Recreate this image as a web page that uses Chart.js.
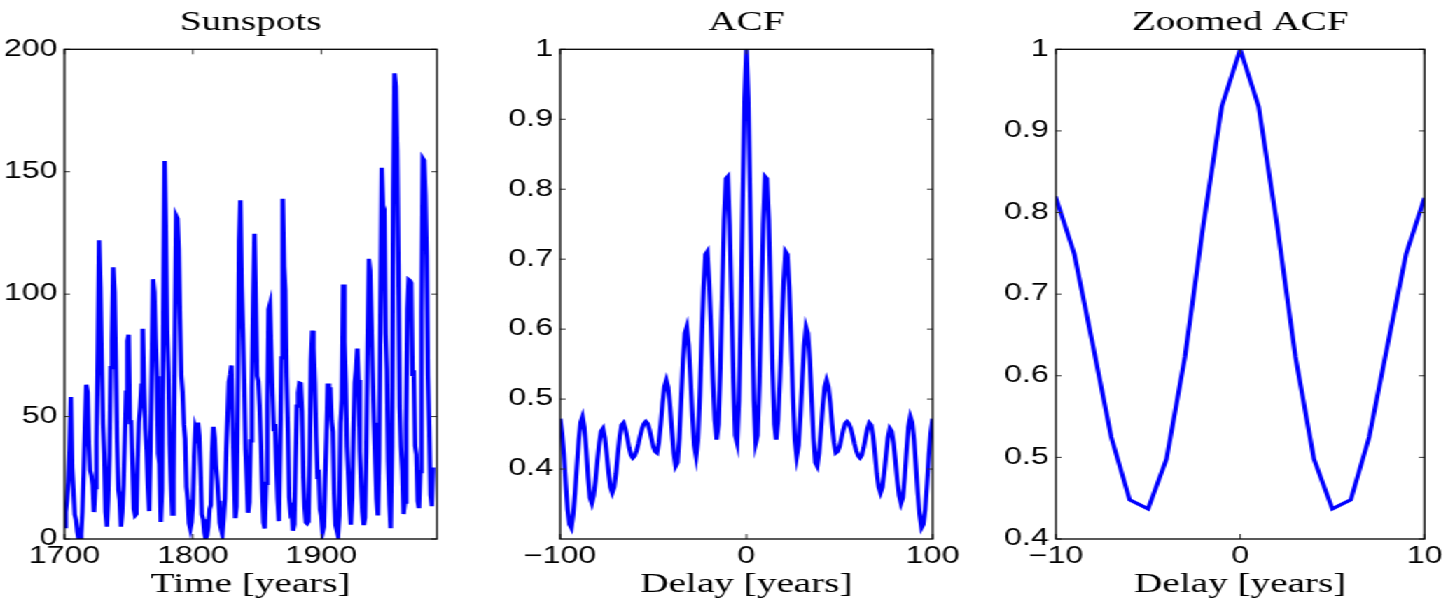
<!DOCTYPE html>
<html>
<head>
<meta charset="utf-8">
<title>Sunspots and ACF</title>
<script src="https://cdn.jsdelivr.net/npm/chart.js@4.4.1/dist/chart.umd.min.js"></script>
<style>
    html, body { margin: 0; padding: 0; background: #fff; }
    /* the picture is stretched sideways, so draw narrow and widen the whole row */
    #wrap { position: relative; width: 1034px; height: 601px; transform: scaleX(1.4004); transform-origin: 0 0; }
    #wrap canvas { position: absolute; top: 0; }
</style>
</head>
<body>
<div id="wrap">
    <canvas id="sunChart" width="336" height="601" style="left:0px"></canvas>
    <canvas id="acfChart" width="336" height="601" style="left:354px"></canvas>
    <canvas id="zoomChart" width="326" height="601" style="left:708px"></canvas>
</div>
<script>
'use strict';

// yearly sunspot numbers, 1700 to 1987
const startYear = 1700;
const sunspots = [
    5, 11, 16, 23, 36, 58, 29, 20, 10, 8,
    3, 0, 0, 2, 11, 27, 47, 63, 60, 39,
    28, 26, 22, 11, 21, 40, 78, 122, 103, 73,
    47, 35, 11, 5, 16, 34, 70, 81, 111, 101,
    73, 40, 20, 16, 5, 11, 22, 40, 60, 80.9,
    83.4, 47.7, 47.8, 30.7, 12.2, 9.6, 10.2, 32.4, 47.6, 54,
    62.9, 85.9, 61.2, 45.1, 36.4, 20.9, 11.4, 37.8, 69.8, 106.1,
    100.8, 81.6, 66.5, 34.8, 30.6, 7, 19.8, 92.5, 154.4, 125.9,
    84.8, 68.1, 38.5, 22.8, 10.2, 24.1, 82.9, 132, 130.9, 118.1,
    89.9, 66.6, 60, 46.9, 41, 21.3, 16, 6.4, 4.1, 6.8,
    14.5, 34, 45, 43.1, 47.5, 42.2, 28.1, 10.1, 8.1, 2.5,
    0, 1.4, 5, 12.2, 13.9, 35.4, 45.8, 41.1, 30.1, 23.9,
    15.6, 6.6, 4, 1.8, 8.5, 16.6, 36.3, 49.6, 64.2, 67,
    70.9, 47.8, 27.5, 8.5, 13.2, 56.9, 121.5, 138.3, 103.2, 85.7,
    64.6, 36.7, 24.2, 10.7, 15, 40.1, 61.5, 98.5, 124.7, 96.3,
    66.6, 64.5, 54.1, 39, 20.6, 6.7, 4.3, 22.7, 54.8, 93.8,
    95.8, 77.2, 59.1, 44, 47, 30.5, 16.3, 7.3, 37.6, 74,
    139, 111.2, 101.6, 66.2, 44.7, 17, 11.3, 12.4, 3.4, 6,
    32.3, 54.3, 59.7, 63.7, 63.5, 52.2, 25.4, 13.1, 6.8, 6.3,
    7.1, 35.6, 73, 85.1, 78, 64, 41.8, 26.2, 26.7, 12.1,
    9.5, 2.7, 5, 24.4, 42, 63.5, 53.8, 62, 48.5, 43.9,
    18.6, 5.7, 3.6, 1.4, 9.6, 47.4, 57.1, 103.9, 80.6, 63.6,
    37.6, 26.1, 14.2, 5.8, 16.7, 44.3, 63.9, 69, 77.8, 64.9,
    35.7, 21.2, 11.1, 5.7, 8.7, 36.1, 79.7, 114.4, 109.6, 88.8,
    67.8, 47.5, 30.6, 16.3, 9.6, 33.2, 92.6, 151.6, 136.3, 134.7,
    83.9, 69.4, 31.5, 13.9, 4.4, 38, 141.7, 190.2, 184.8, 159,
    112.3, 53.9, 37.6, 27.9, 10.2, 15.1, 47, 93.8, 105.9, 105.5,
    104.5, 66.6, 68.9, 38, 34.5, 15.5, 12.6, 27.5, 92.5, 155.4,
    154.6, 140.5, 115.9, 66.6, 45.9, 17.9, 13.4, 29.2
];
const sunTicksX = [1700, 1800, 1900];
const sunTicksY = [0, 50, 100, 150, 200];

// autocorrelation, delays -100 .. 100
const maxLag = 100;
const acf = [
    0.472, 0.452, 0.421, 0.379, 0.342, 0.321, 0.316, 0.335, 0.366, 0.405,
    0.442, 0.467, 0.475, 0.460, 0.427, 0.388, 0.359, 0.351, 0.362, 0.384,
    0.412, 0.437, 0.454, 0.458, 0.445, 0.421, 0.395, 0.374, 0.366, 0.374,
    0.394, 0.422, 0.447, 0.463, 0.466, 0.458, 0.445, 0.431, 0.420, 0.416,
    0.419, 0.426, 0.436, 0.448, 0.458, 0.465, 0.468, 0.465, 0.456, 0.444,
    0.432, 0.425, 0.423, 0.438, 0.464, 0.495, 0.518, 0.527, 0.517, 0.490,
    0.455, 0.423, 0.404, 0.409, 0.445, 0.500, 0.557, 0.594, 0.603, 0.577,
    0.530, 0.476, 0.434, 0.418, 0.441, 0.504, 0.585, 0.660, 0.707, 0.711,
    0.668, 0.602, 0.529, 0.470, 0.442, 0.464, 0.543, 0.654, 0.756, 0.815,
    0.818, 0.749, 0.638, 0.525, 0.448, 0.437, 0.498, 0.623, 0.785, 0.930,
    1.000,
    0.930, 0.785, 0.623, 0.498, 0.437, 0.448, 0.525, 0.638, 0.749, 0.818,
    0.815, 0.756, 0.654, 0.543, 0.464, 0.442, 0.470, 0.529, 0.602, 0.668,
    0.711, 0.707, 0.660, 0.585, 0.504, 0.441, 0.418, 0.434, 0.476, 0.530,
    0.577, 0.603, 0.594, 0.557, 0.500, 0.445, 0.409, 0.404, 0.423, 0.455,
    0.490, 0.517, 0.527, 0.518, 0.495, 0.464, 0.438, 0.423, 0.425, 0.432,
    0.444, 0.456, 0.465, 0.468, 0.465, 0.458, 0.448, 0.436, 0.426, 0.419,
    0.416, 0.420, 0.431, 0.445, 0.458, 0.466, 0.463, 0.447, 0.422, 0.394,
    0.374, 0.366, 0.374, 0.395, 0.421, 0.445, 0.458, 0.454, 0.437, 0.412,
    0.384, 0.362, 0.351, 0.359, 0.388, 0.427, 0.460, 0.475, 0.467, 0.442,
    0.405, 0.366, 0.335, 0.316, 0.321, 0.342, 0.379, 0.421, 0.452, 0.472
];
const acfTicksX = [-100, 0, 100];
const acfTicksY = [0.4, 0.5, 0.6, 0.7, 0.8, 0.9, 1];
const zoomTicksX = [-10, 0, 10];
const zoomTicksY = [0.4, 0.5, 0.6, 0.7, 0.8, 0.9, 1];

const serif = 'Liberation Serif';
const sans = 'Liberation Sans';

// MATLAB style axes: full box with short ticks pointing inward
const boxTicks = {
    id: 'boxTicks',
    afterDraw(chart) {
        const {ctx, chartArea: a, scales} = chart;
        ctx.save();
        ctx.strokeStyle = '#333';
        ctx.lineWidth = 1;
        ctx.beginPath();
        scales.x.ticks.forEach(t => {
            const px = scales.x.getPixelForValue(t.value);
            ctx.moveTo(px, a.bottom);
            ctx.lineTo(px, a.bottom - 5);
            ctx.moveTo(px, a.top);
            ctx.lineTo(px, a.top + 5);
        });
        scales.y.ticks.forEach(t => {
            const py = scales.y.getPixelForValue(t.value);
            ctx.moveTo(a.left, py);
            ctx.lineTo(a.left + 4, py);
            ctx.moveTo(a.right, py);
            ctx.lineTo(a.right - 4, py);
        });
        ctx.stroke();
        ctx.strokeStyle = '#000';
        ctx.lineWidth = 1.3;
        ctx.strokeRect(a.left, a.top, a.right - a.left, a.bottom - a.top);
        ctx.restore();
    }
};

function tickLabel(value) {
    return value < 0 ? '\u2212' + Math.abs(value) : String(value);
}

function makeChart(id, points, opts) {
    let ctx = document.getElementById(id).getContext('2d');
    return new Chart(ctx, {
        type: 'line',
        data: {
            datasets: [{
                data: points,
                borderColor: '#0000ff',
                borderWidth: 3.2,
                pointRadius: 0,
                tension: 0,
                fill: false
            }]
        },
        options: {
            responsive: false,
            devicePixelRatio: 1,
            animation: false,
            layout: {padding: {left: 0, right: opts.rightPad, top: 0, bottom: 0}},
            plugins: {
                legend: {display: false},
                tooltip: {enabled: false},
                title: {
                    display: true,
                    fullSize: false,
                    text: opts.title,
                    color: '#000',
                    font: {family: serif, size: 28, weight: 'normal'},
                    padding: {top: 6, bottom: 9.7}
                }
            },
            scales: {
                x: {
                    type: 'linear',
                    min: opts.xRange[0],
                    max: opts.xRange[1],
                    grid: {display: false, drawTicks: false},
                    border: {display: false},
                    afterBuildTicks: scale => { scale.ticks = opts.xTicks.map(v => ({value: v})); },
                    afterFit: scale => { scale.height = 62; },
                    ticks: {
                        color: '#000',
                        font: {family: sans, size: 23},
                        padding: 4,
                        maxRotation: 0,
                        autoSkip: false,
                        callback: tickLabel
                    },
                    title: {
                        display: true,
                        text: opts.xTitle,
                        color: '#000',
                        font: {family: serif, size: 28, weight: 'normal'},
                        padding: {top: 0, bottom: 0}
                    }
                },
                y: {
                    type: 'linear',
                    min: opts.yRange[0],
                    max: opts.yRange[1],
                    grid: {display: false, drawTicks: false},
                    border: {display: false},
                    afterBuildTicks: scale => { scale.ticks = opts.yTicks.map(v => ({value: v})); },
                    afterFit: scale => { scale.width = 46; },
                    ticks: {
                        color: '#000',
                        font: {family: sans, size: 23},
                        padding: 5,
                        autoSkip: false,
                        callback: tickLabel
                    }
                }
            }
        },
        plugins: [boxTicks]
    });
}

const sunPoints = sunspots.map((v, i) => ({x: startYear + i, y: v}));
const acfPoints = acf.map((v, i) => ({x: i - maxLag, y: v}));

makeChart('sunChart', sunPoints, {
    title: 'Sunspots', xTitle: 'Time [years]',
    xRange: [1700, 1990], yRange: [0, 200],
    xTicks: sunTicksX, yTicks: sunTicksY, rightPad: 24
});

makeChart('acfChart', acfPoints, {
    title: 'ACF', xTitle: 'Delay [years]',
    xRange: [-100, 100], yRange: [0.3, 1],
    xTicks: acfTicksX, yTicks: acfTicksY, rightPad: 24
});

makeChart('zoomChart', acfPoints, {
    title: 'Zoomed ACF', xTitle: 'Delay [years]',
    xRange: [-10, 10], yRange: [0.4, 1],
    xTicks: zoomTicksX, yTicks: zoomTicksY, rightPad: 14
});
</script>
</body>
</html>
